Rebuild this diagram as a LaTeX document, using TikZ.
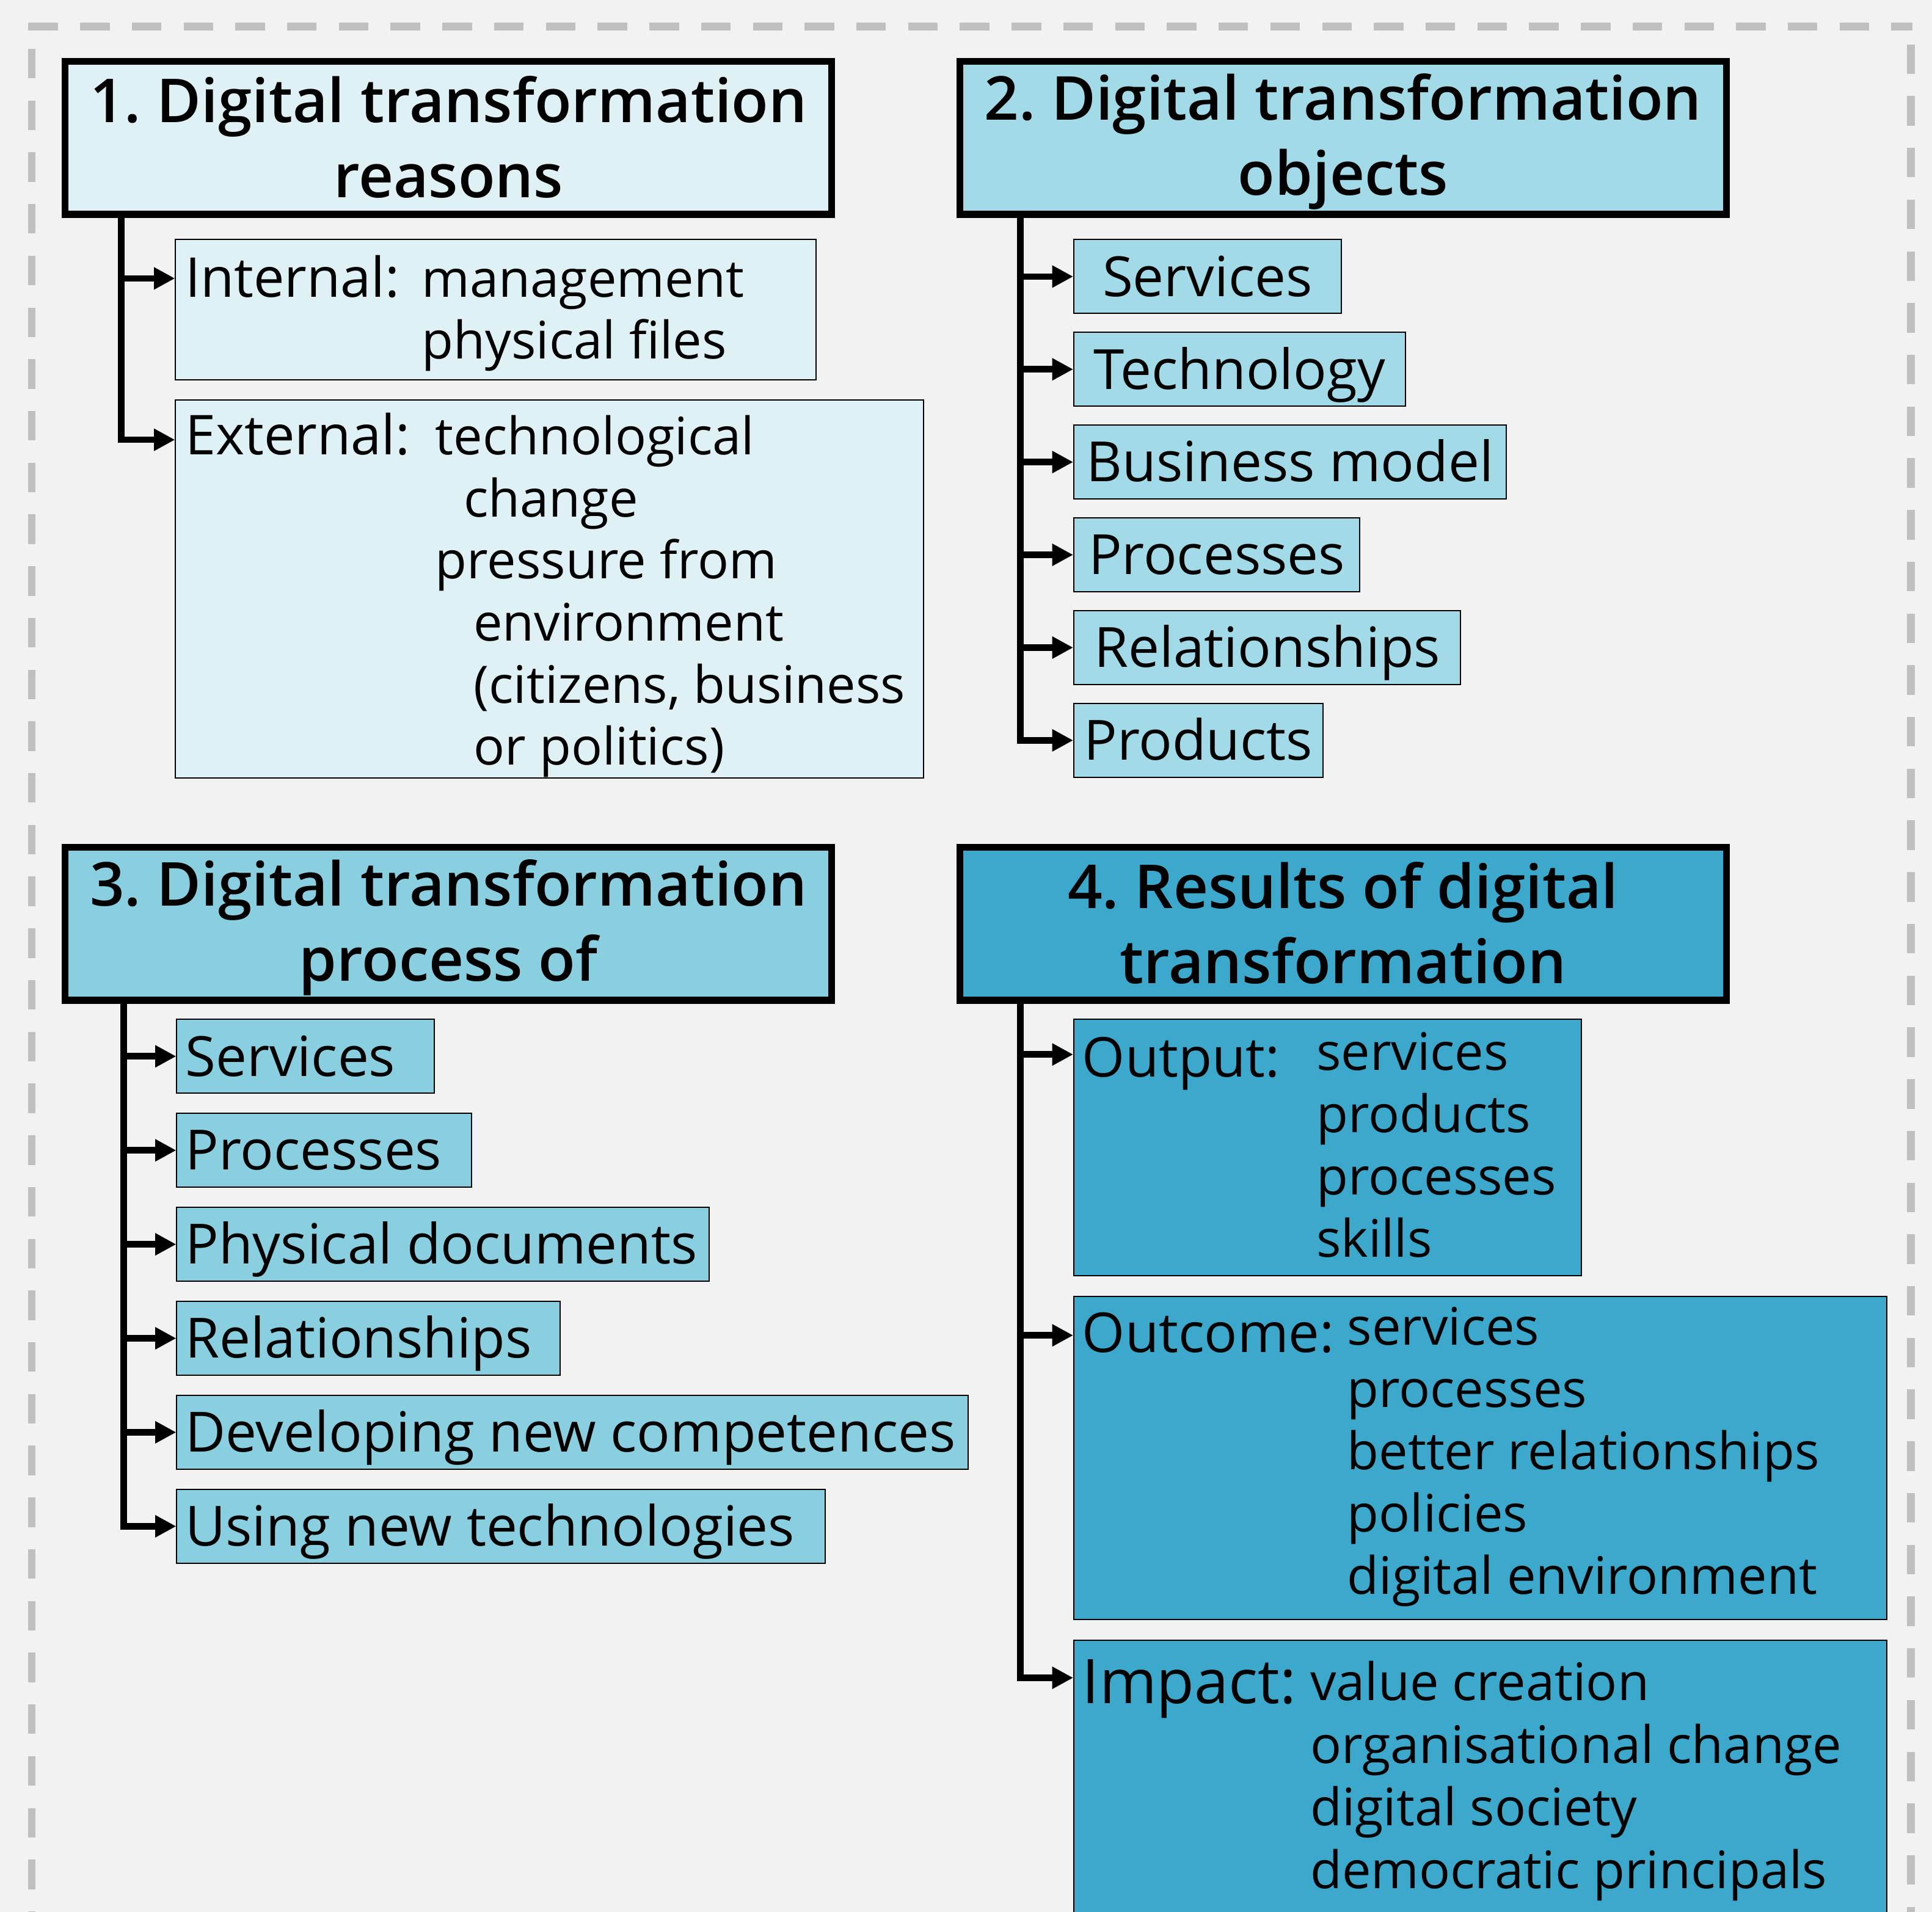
\documentclass[tikz,border=0pt]{standalone}
\usepackage{fontspec}
\setmainfont{Open Sans}
\newfontfamily\headfont{Open Sans Semibold}
\usetikzlibrary{positioning,arrows.meta}
\frenchspacing

\definecolor{paper}{HTML}{F2F2F2}
\definecolor{framegray}{HTML}{C0C0C0}
\definecolor{reasonfill}{HTML}{DFF1F5}
\definecolor{objectfill}{HTML}{A3DAE7}
\definecolor{processfill}{HTML}{8ACFE0}
\definecolor{resultfill}{HTML}{3BA8CC}

\newcommand\hdstrut{\rule[-4pt]{0pt}{26pt}}

\begin{document}
\begin{tikzpicture}[x=0.5pt,y=-0.5pt,
    headbox/.style={draw,line width=2.75pt,minimum width=311pt,minimum height=62pt,
      inner sep=0pt,align=center,font=\fontsize{24.6}{30.5}\selectfont\headfont},
    subbox/.style={draw,line width=0.5pt,inner sep=0pt},
    onebox/.style={subbox,minimum height=30pt,text height=16pt,text depth=0pt,
      font=\fontsize{22.5}{26}\selectfont},
    itemtext/.style={anchor=base west,inner sep=0pt,font=\fontsize{21}{25}\selectfont},
    labeltext/.style={anchor=base west,inner sep=0pt,font=\fontsize{22.3}{26}\selectfont},
    link/.style={line width=2.65pt,-{Triangle[length=8.5pt,width=8.5pt]}},
    framedash/.style={framegray,line width=3.1pt,dash pattern=on 12pt off 9pt}]
  \useasboundingbox (0,0) rectangle (1568,1552);
  \clip (0,0) rectangle (1568,1552);
  \fill[paper] (0,0) rectangle (1568,1552);

  % dashed frame
  \draw[framedash] (23,21.6) -- (1552,21.6);
  \draw[framedash,dash phase=12pt] (25.8,21.6) -- (25.8,1600);
  \draw[framedash,dash phase=13.8pt] (1550.8,21.6) -- (1550.8,1600);

  % 1. reasons
  \node[headbox,fill=reasonfill] (h1) at (364,112) {\hdstrut 1. Digital transformation\\\hdstrut reasons};
  \node[subbox,fill=reasonfill,anchor=north west,minimum width=260pt,minimum height=57pt] (int) at (142,194) {};
  \node[subbox,fill=reasonfill,anchor=north west,minimum width=303.5pt,minimum height=153.5pt] (ext) at (142,324) {};
  \node[labeltext] (intl) at (150,241) {Internal:};
  \node[itemtext] (int1) at (342,241) {management};
  \node[itemtext] (int2) at (342,291) {physical files};
  \node[labeltext] (extl) at (150,369) {External:};
  \foreach \x/\itm [count=\i from 0] in {353/technological,376/change,353/pressure from,
      384/environment,384/{(citizens, business},384/or politics)}
    \node[itemtext] (ext\i) at (\x,369+50.4*\i) {\itm};
  \coordinate (r1) at ([xshift=24pt]h1.south west);
  \coordinate (inta) at ([yshift=-16pt]int.north west);
  \coordinate (exta) at ([yshift=-16.5pt]ext.north west);
  \draw[link] (r1) |- (exta);
  \draw[link] (r1 |- inta) -- (inta);

  % 2. objects
  \node[headbox,fill=objectfill] (h2) at (1090,112) {\hdstrut 2. Digital transformation\\\hdstrut objects};
  \foreach \w/\itm [count=\i] in {108.5pt/Services,134.5pt/Technology,175.5pt/Business model,
      116pt/Processes,157pt/Relationships,101pt/Products}
    \node[onebox,fill=objectfill,anchor=west,minimum width=\w] (obj\i) at (871,224.5+75.3*\i-75.3) {\itm};
  \coordinate (r2) at ([xshift=26pt]h2.south west);
  \foreach \i in {1,...,5}
    \draw[link] (r2 |- obj\i.west) -- (obj\i.west);
  \draw[link] (r2) |- (obj6.west);

  % 3. process
  \node[headbox,fill=processfill] (h3) at (364,750) {\hdstrut 3. Digital transformation\\\hdstrut process of};
  \foreach \w/\itm [count=\i] in {97.5pt/Services,112.5pt/Processes,209pt/Physical documents,
      148.5pt/Relationships,314pt/Developing new competences,256pt/Using new technologies}
    \node[onebox,fill=processfill,anchor=west,inner xsep=3.5pt] (proc\i) at (143,857.5+76.3*\i-76.3) {\makebox[\w][l]{\itm}};
  \coordinate (r3) at ([xshift=25pt]h3.south west);
  \foreach \i in {1,...,5}
    \draw[link] (r3 |- proc\i.west) -- (proc\i.west);
  \draw[link] (r3) |- (proc6.west);

  % 4. results
  \node[headbox,fill=resultfill] (h4) at (1090,750) {\hdstrut 4. Results of digital\\\hdstrut transformation};
  \node[subbox,fill=resultfill,anchor=north west,minimum width=206pt,minimum height=104pt] (outp) at (871,827) {};
  \node[subbox,fill=resultfill,anchor=north west,minimum width=330pt,minimum height=131pt] (outc) at (871,1052) {};
  \node[subbox,fill=resultfill,anchor=north west,minimum width=330pt,minimum height=150pt] (imp) at (871,1331) {};
  \node[labeltext] (outpl) at (878,874) {Output:};
  \foreach \itm [count=\i from 0] in {services,products,processes,skills}
    \node[itemtext] (outp\i) at (1068,869+50.5*\i) {\itm};
  \node[labeltext] (outcl) at (878,1098) {Outcome:};
  \foreach \itm [count=\i from 0] in {services,processes,better relationships,policies,digital environment}
    \node[itemtext] (outc\i) at (1093,1092+50.5*\i) {\itm};
  \node[labeltext,font=\fontsize{25}{30}\selectfont] (impl) at (878,1383) {Impact:};
  \foreach \itm [count=\i from 0] in {value creation,organisational change,digital society,democratic principals}
    \node[itemtext] (imp\i) at (1063,1380.5+50.8*\i) {\itm};
  \coordinate (r4) at ([xshift=26pt]h4.south west);
  \coordinate (outpa) at ([yshift=-14.5pt]outp.north west);
  \coordinate (outca) at ([yshift=-16pt]outc.north west);
  \coordinate (impa) at ([yshift=-15.5pt]imp.north west);
  \draw[link] (r4) |- (impa);
  \draw[link] (r4 |- outpa) -- (outpa);
  \draw[link] (r4 |- outca) -- (outca);
\end{tikzpicture}
\end{document}
